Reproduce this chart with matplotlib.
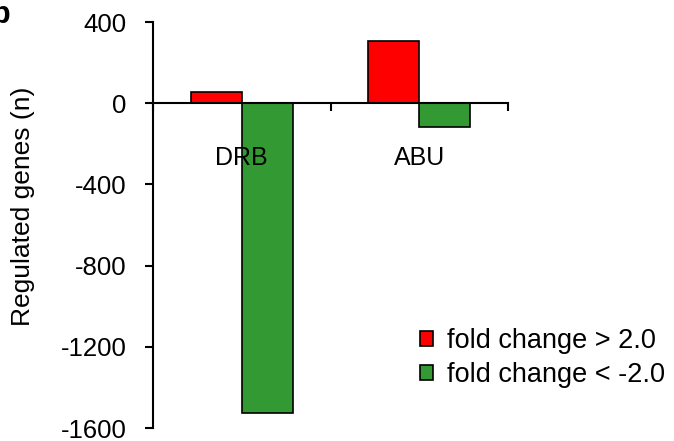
import matplotlib.pyplot as plt
from matplotlib.patches import Patch

plt.rcParams['font.family'] = ['Liberation Sans', 'DejaVu Sans']
plt.rcParams['axes.unicode_minus'] = False

# Дані
categories = ["DRB", "ABU"]
up_values = [57, 305]        # fold change > 2.0
down_values = [-1525, -117]  # fold change < -2.0
series_labels = ["fold change > 2.0", "fold change < -2.0"]
colors = ["#ff0000", "#339933"]

fig = plt.figure(figsize=(6.74, 4.41), dpi=100)
ax = fig.add_axes([153/674, 1 - 428/441, (508 - 153)/674, (428 - 22)/441])
ax.set_axisbelow(False)

x = list(range(len(categories)))
w = 0.288
ax.bar([i - w/2 for i in x], up_values, width=w, color=colors[0],
       edgecolor='black', linewidth=1.2, zorder=2)
ax.bar([i + w/2 for i in x], down_values, width=w, color=colors[1],
       edgecolor='black', linewidth=1.2, zorder=2)

ax.set_xlim(-0.5, len(categories) - 0.5)
ax.set_ylim(-1600, 400)
ax.set_yticks(range(-1600, 401, 400))
ax.tick_params(axis='y', labelsize=18.5, length=6, width=1.5,
               direction='out', pad=13)

# вісь X проходить через нуль
ax.spines['bottom'].set_position(('data', 0))
ax.spines['top'].set_visible(False)
ax.spines['right'].set_visible(False)
for s in ('left', 'bottom'):
    ax.spines[s].set_linewidth(1.5)

ax.set_xticks([i - 0.5 for i in range(len(categories) + 1)])
ax.set_xticklabels([])
ax.tick_params(axis='x', which='major', length=6, width=1.5, direction='out')
ax.set_xticks(x, minor=True)
ax.set_xticklabels(categories, minor=True)
ax.tick_params(axis='x', which='minor', length=0, labelsize=18, pad=31)

fig.text(23/674, 1 - 206/441, "Regulated genes (n)", fontsize=19,
         rotation=90, ha='center', va='center')

handles = [Patch(facecolor=c, edgecolor='black', linewidth=1.2) for c in colors]
fig.legend(handles, series_labels, loc='upper left',
           bbox_to_anchor=(409/674, 1 - 317/441), frameon=False,
           fontsize=19.5, handlelength=0.5, handleheight=0.5,
           handletextpad=0.5, labelspacing=0.3, borderaxespad=0)

fig.text(-0.012, 1.0, "b", fontsize=22, fontweight='bold', va='top', ha='left')

plt.savefig("out.png", dpi=100, facecolor='white')
plt.close()
